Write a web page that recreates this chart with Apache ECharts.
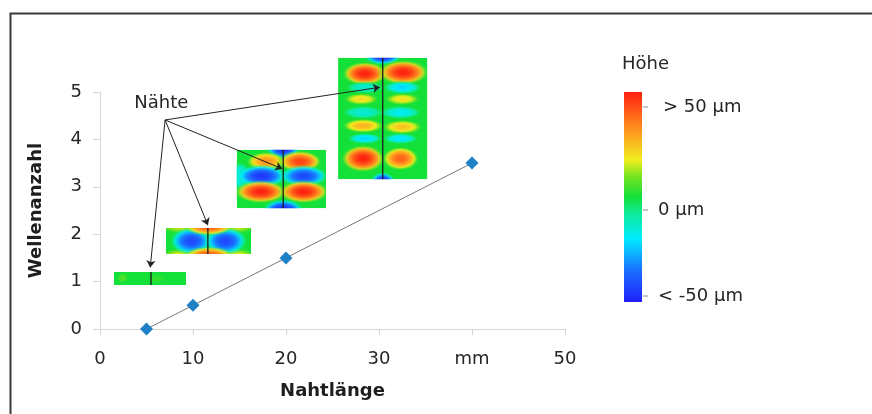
<!DOCTYPE html>
<html>
<head>
<meta charset="utf-8">
<script src="https://cdn.jsdelivr.net/npm/echarts@6/dist/echarts.min.js"></script>
<style>html,body{margin:0;padding:0;background:#fff}#c{width:872px;height:414px}</style>
</head>
<body>
<div id="c"></div>
<script>
// ---- data ----
var xTickValues = [0, 10, 20, 30, 40, 50];
var xTickLabels = ['0', '10', '20', '30', 'mm', '50'];
var seamLength = [5, 10, 20, 40];          // Nahtlänge (mm)
var waveCount = [0, 0.5, 1.5, 3.5];        // Wellenanzahl
var annotationText = 'Nähte';
var annotationPos = [6.6, 4.77];
var arrowStart = [7.0, 4.41];
var arrowEnds = [[5.4, 1.30], [11.6, 2.19], [19.6, 3.38], [30.1, 5.10]];
// inset images: [xMin, xMax, yMin, yMax, seamX]
var insets = [
  [1.5, 9.25, 0.93, 1.20, 5.48],
  [7.1, 16.25, 1.58, 2.13, 11.6],
  [14.7, 24.3, 2.55, 3.78, 19.7],
  [25.6, 35.2, 3.16, 5.72, 30.4]
];
// height blobs per inset: [u, v, ru, rv, value(-1..1)]
var insetBlobs = [
  [[0.12, 0.45, 0.08, 0.4, 0.12], [0.6, 0.5, 0.12, 0.4, 0.06]],
  [[0.20, -0.15, 0.30, 0.40, 0.35], [0.80, -0.15, 0.30, 0.40, 0.35],
   [0.20, 1.15, 0.30, 0.40, 0.4], [0.80, 1.15, 0.30, 0.40, 0.4],
   [0.30, 0.50, 0.26, 0.55, -0.85], [0.70, 0.50, 0.26, 0.55, -0.85],
   [0.50, -0.08, 0.30, 0.38, 0.85], [0.50, 1.08, 0.30, 0.38, 0.85]],
  [[0.52, -0.04, 0.20, 0.22, -1],
   [0.33, 0.20, 0.23, 0.17, 0.65], [0.71, 0.20, 0.25, 0.19, 0.9],
   [0.04, 0.45, 0.12, 0.25, -0.4],
   [0.28, 0.45, 0.30, 0.20, -0.92], [0.75, 0.45, 0.28, 0.19, -0.85],
   [0.27, 0.72, 0.30, 0.20, 1], [0.75, 0.72, 0.29, 0.20, 1],
   [0.52, 1.04, 0.24, 0.20, -1]],
  [[0.50, -0.02, 0.22, 0.08, -1],
   [0.30, 0.13, 0.26, 0.10, 1], [0.73, 0.12, 0.29, 0.105, 1],
   [0.30, 0.245, 0.22, 0.05, -0.3], [0.72, 0.245, 0.22, 0.055, -0.45],
   [0.26, 0.34, 0.20, 0.05, 0.42], [0.72, 0.34, 0.20, 0.05, 0.4],
   [0.28, 0.45, 0.24, 0.055, -0.3], [0.70, 0.45, 0.24, 0.055, -0.38],
   [0.28, 0.56, 0.24, 0.06, 0.55], [0.72, 0.57, 0.23, 0.06, 0.5],
   [0.30, 0.665, 0.20, 0.045, -0.45], [0.70, 0.665, 0.20, 0.045, -0.42],
   [0.28, 0.83, 0.25, 0.115, 1], [0.70, 0.83, 0.21, 0.10, 0.8],
   [0.50, 1.02, 0.14, 0.08, -1]]
];
var colorbarTitle = 'Höhe';
var colorbarLabels = ['> 50 µm', '0 µm', '< -50 µm'];

// ---- colormap ----
var cmapStops = [
  [-1, [32, 32, 250]], [-0.7, [26, 112, 255]], [-0.4, [0, 235, 255]],
  [-0.15, [16, 235, 150]], [0, [20, 224, 58]], [0.2, [120, 228, 32]],
  [0.35, [240, 238, 32]], [0.6, [255, 160, 32]], [1, [255, 32, 16]]
];
function cmap(v, a) {
  v = Math.max(-1, Math.min(1, v));
  for (var i = 1; i < cmapStops.length; i++) {
    if (v <= cmapStops[i][0]) {
      var s0 = cmapStops[i - 1], s1 = cmapStops[i];
      var t = (v - s0[0]) / (s1[0] - s0[0]);
      var c = s0[1].map(function (x, k) { return Math.round(x + (s1[1][k] - x) * t); });
      return 'rgba(' + c[0] + ',' + c[1] + ',' + c[2] + ',' + (a == null ? 1 : a) + ')';
    }
  }
}

var font = '"DejaVu Sans", Arial, sans-serif';
var textColor = '#262626';
var chart = echarts.init(document.getElementById('c'));

function renderInset(params, api) {
  var idx = api.value(5);
  var p0 = api.coord([api.value(0), api.value(3)]);
  var p1 = api.coord([api.value(1), api.value(2)]);
  var w = p1[0] - p0[0], h = p1[1] - p0[1];
  var children = [{
    type: 'rect', shape: { x: p0[0], y: p0[1], width: w, height: h },
    style: { fill: cmap(0) }
  }];
  insetBlobs[idx].forEach(function (b) {
    var rx = b[2] * w, ry = b[3] * h, v = b[4];
    var stops = [];
    [0, 0.15, 0.3, 0.45, 0.6, 0.75, 0.9, 1].forEach(function (t) {
      var a = t <= 0.7 ? 1 : Math.max(0, (1 - t) / 0.3);
      stops.push({ offset: t, color: cmap(v * (1 - t * t), a) });
    });
    children.push({
      type: 'circle',
      x: p0[0] + b[0] * w, y: p0[1] + b[1] * h,
      scaleX: rx / ry, scaleY: 1,
      shape: { cx: 0, cy: 0, r: ry },
      style: { fill: { type: 'radial', x: 0.5, y: 0.5, r: 0.5, colorStops: stops } }
    });
  });
  var sx = api.coord([api.value(4), 0])[0];
  children.push({
    type: 'line', shape: { x1: sx, y1: p0[1], x2: sx, y2: p1[1] },
    style: { stroke: '#1a1a1a', lineWidth: 1.3 }
  });
  return {
    type: 'group',
    clipPath: { type: 'rect', shape: { x: p0[0], y: p0[1], width: w, height: h } },
    children: children
  };
}

var cbTop = 92, cbH = 210;
var cbGrad = cmapStops.slice().reverse().map(function (s) {
  return { offset: (1 - s[0]) / 2, color: cmap(s[0]) };
});

chart.setOption({
  animation: false,
  backgroundColor: '#fff',
  grid: { left: 100, top: 92, width: 465, height: 237 },
  xAxis: {
    type: 'value', min: 0, max: 50, interval: 10,
    name: 'Nahtlänge', nameLocation: 'middle', nameGap: 53,
    nameTextStyle: { fontFamily: font, fontSize: 18, fontWeight: 'bold', color: '#1e1e1e' },
    axisLine: { show: true, lineStyle: { color: '#d6d6d6', width: 1 } },
    axisTick: { show: true, length: 6, lineStyle: { color: '#d6d6d6' } },
    splitLine: { show: false },
    axisLabel: {
      fontFamily: font, fontSize: 18, color: textColor, margin: 21,
      formatter: function (v) { var i = xTickValues.indexOf(v); return i >= 0 ? xTickLabels[i] : v; }
    }
  },
  yAxis: {
    type: 'value', min: 0, max: 5, interval: 1,
    name: 'Wellenanzahl', nameLocation: 'middle', nameGap: 55,
    nameTextStyle: { fontFamily: font, fontSize: 18, fontWeight: 'bold', color: '#1e1e1e' },
    axisLine: { show: true, lineStyle: { color: '#d6d6d6', width: 1 } },
    axisTick: { show: true, length: 7, lineStyle: { color: '#d6d6d6' } },
    splitLine: { show: false },
    axisLabel: { fontFamily: font, fontSize: 18, color: textColor, margin: 18 }
  },
  series: [
    {
      type: 'line',
      data: seamLength.map(function (x, i) { return [x, waveCount[i]]; }),
      symbol: 'diamond', symbolSize: 13,
      itemStyle: { color: '#1f80c6' },
      lineStyle: { color: '#777', width: 1 },
      z: 2
    },
    {
      type: 'custom', coordinateSystem: 'cartesian2d', clip: false,
      data: insets.map(function (r, i) { return r.concat([i]); }),
      renderItem: renderInset,
      z: 3
    },
    {
      type: 'lines', coordinateSystem: 'cartesian2d', clip: false,
      data: arrowEnds.map(function (e) { return { coords: [arrowStart, e] }; }),
      symbol: ['none', 'arrow'], symbolSize: 7,
      lineStyle: { color: '#222', width: 1, opacity: 1 },
      z: 4
    },
    {
      type: 'scatter', data: [annotationPos], symbolSize: 0,
      itemStyle: { opacity: 1 },
      label: { show: true, position: 'inside', formatter: annotationText,
        fontFamily: font, fontSize: 18, color: textColor },
      z: 5
    }
  ],
  graphic: [
    { type: 'rect', left: 8, top: 11, shape: { x: 0, y: 0, width: 900, height: 500 },
      style: { fill: 'none', stroke: '#3a3a3a', lineWidth: 2 }, z: 10 },
    { type: 'text', x: 622, y: 64, style: { text: colorbarTitle, font: '18px ' + font, fill: textColor, verticalAlign: 'middle' } },
    { type: 'rect', left: 624, top: cbTop, shape: { x: 0, y: 0, width: 18, height: cbH },
      style: { fill: { type: 'linear', x: 0, y: 0, x2: 0, y2: 1, colorStops: cbGrad } } },
    { type: 'line', shape: { x1: 643, y1: 107, x2: 648, y2: 107 }, style: { stroke: '#888', lineWidth: 1 } },
    { type: 'line', shape: { x1: 643, y1: 210, x2: 648, y2: 210 }, style: { stroke: '#888', lineWidth: 1 } },
    { type: 'line', shape: { x1: 643, y1: 296, x2: 648, y2: 296 }, style: { stroke: '#888', lineWidth: 1 } },
    { type: 'text', x: 663, y: 107, style: { text: colorbarLabels[0], font: '18px ' + font, fill: textColor, verticalAlign: 'middle' } },
    { type: 'text', x: 658, y: 210, style: { text: colorbarLabels[1], font: '18px ' + font, fill: textColor, verticalAlign: 'middle' } },
    { type: 'text', x: 658, y: 296, style: { text: colorbarLabels[2], font: '18px ' + font, fill: textColor, verticalAlign: 'middle' } }
  ]
});
</script>
</body>
</html>
